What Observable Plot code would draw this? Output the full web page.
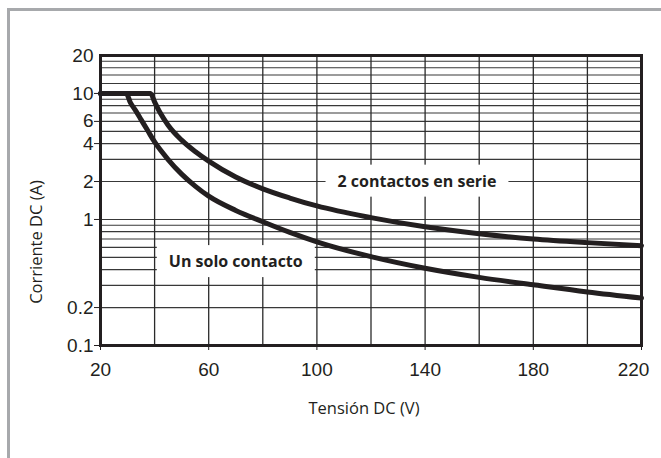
<!DOCTYPE html>
<html><head><meta charset="utf-8">
<script src="https://cdn.jsdelivr.net/npm/d3@7"></script>
<script src="https://cdn.jsdelivr.net/npm/@observablehq/plot@0.6"></script>
<style>
html,body{margin:0;padding:0;background:#fff;width:661px;height:458px;overflow:hidden}
#wrap{position:relative;width:661px;height:458px}
#border{position:absolute;left:7px;top:8px;width:720px;height:520px;border-top:3px solid #a7a9ac;border-left:3px solid #a7a9ac;box-sizing:border-box}
#chart{position:absolute;left:0;top:0}
#ytitle{position:absolute;left:36px;top:242px;transform:translate(-50%,-50%) rotate(-90deg);white-space:nowrap;font-family:'Open Sans',sans-serif;font-size:16.5px;color:#231f20;line-height:1}
</style></head><body>
<div id="wrap"><div id="border"></div><div id="chart"></div><div id="ytitle"></div></div>
<script>
// Single contact curve
const singleVoltage = [20, 29.5, 31, 33, 35, 37.5, 40, 45, 50, 55, 60, 70, 80, 90, 100, 120, 140, 160, 180, 200, 220];
const singleCurrent = [10, 10, 8.5, 7.3, 6.2, 5.05, 4.12, 2.99, 2.29, 1.84, 1.53, 1.18, 0.96, 0.79, 0.665, 0.507, 0.41, 0.347, 0.303, 0.266, 0.238];
// Two contacts in series curve
const seriesVoltage = [20, 38.5, 40, 42, 45, 50, 55, 60, 70, 80, 90, 100, 120, 140, 160, 180, 200, 220];
const seriesCurrent = [10, 10, 8.56, 7.05, 5.6, 4.26, 3.46, 2.9, 2.17, 1.75, 1.48, 1.28, 1.035, 0.875, 0.77, 0.70, 0.655, 0.62];

const xTicks = [20, 60, 100, 140, 180, 220];
const xGrid = [40, 60, 80, 100, 120, 140, 160, 180, 200];
const yLabels = [0.1, 0.2, 1, 2, 4, 6, 10, 20];
const yTickMarks = [0.1, 0.2, 1, 2, 4, 6, 10];
const yGrid = [0.2, 0.3, 0.4, 0.5, 0.6, 0.7, 0.8, 0.9, 1, 2, 3, 4, 5, 6, 7, 8, 9, 10, 12, 14, 16, 18];

const curveLabels = ["2 contactos en serie", "Un solo contacto"];
const labelVoltage = [137, 70];
const labelCurrent = [2, 0.46];

const xTitle = "Tensión DC (V)";
const yTitle = "Corriente DC (A)";

const single = singleVoltage.map((v, i) => ({v, a: singleCurrent[i]}));
const series = seriesVoltage.map((v, i) => ({v, a: seriesCurrent[i]}));
const labels = curveLabels.map((t, i) => ({t, v: labelVoltage[i], a: labelCurrent[i]}));

const ink = "#231f20";
const tickFont = "'Liberation Sans', Arial, sans-serif";
const textFont = "'Open Sans', sans-serif";

const chart = Plot.plot({
  width: 661,
  height: 458,
  marginLeft: 100,
  marginRight: 20,
  marginTop: 55,
  marginBottom: 113,
  style: {background: "transparent", color: ink, fontFamily: tickFont},
  x: {domain: [20, 220]},
  y: {type: "log", domain: [0.1, 20]},
  marks: [
    Plot.ruleY(yGrid, {stroke: "#383838", strokeWidth: 1.15}),
    Plot.ruleX(xGrid, {stroke: "#2a2a2a", strokeWidth: 1.3}),
    Plot.line(series, {x: "v", y: "a", stroke: ink, strokeWidth: 5, curve: "monotone-x"}),
    Plot.line(single, {x: "v", y: "a", stroke: ink, strokeWidth: 5, curve: "monotone-x"}),
    Plot.frame({stroke: ink, strokeWidth: 3}),
    Plot.axisX({ticks: xTicks, tickSize: 5, tickPadding: 12, fontSize: 19, tickFormat: d => String(d), label: null, className: "xaxis"}),
    Plot.axisY({ticks: yTickMarks, tickSize: 6, tickFormat: () => "", label: null}),
    Plot.text(yLabels, {y: d => d, text: d => String(d), frameAnchor: "left", textAnchor: "end", dx: -7, fontSize: 19, fill: ink}),
    Plot.text([xTitle], {frameAnchor: "bottom", dx: -7, dy: 68, fontSize: 16.5, fontFamily: textFont, fill: ink}),
    Plot.text(labels, {x: "v", y: "a", text: "t", fontSize: 16, fontWeight: "bold", fontFamily: textFont, fill: ink, className: "curve-label"})
  ]
});

document.getElementById("chart").appendChild(chart);
document.getElementById("ytitle").textContent = yTitle;

// keep the last x tick label inside the picture, as in the reference
chart.querySelectorAll("text").forEach(t => {
  if (t.textContent === String(xTicks[xTicks.length - 1])) t.setAttribute("dx", "-8");
  if (t.textContent === String(xTicks[0]) && t.closest("g") && t.getAttribute("y") !== null) {}
});

// white boxes behind curve labels
const svgRect = chart.getBoundingClientRect();
const labelGroup = chart.querySelector(".curve-label");
if (labelGroup) {
  const g = labelGroup.tagName.toLowerCase() === "g" ? labelGroup : labelGroup.parentNode;
  const boxes = document.createElementNS("http://www.w3.org/2000/svg", "g");
  g.querySelectorAll("text").forEach(t => {
    const r = t.getBoundingClientRect();
    const rect = document.createElementNS("http://www.w3.org/2000/svg", "rect");
    const padX = 12, padY = 5;
    rect.setAttribute("x", r.left - svgRect.left - padX);
    rect.setAttribute("y", r.top - svgRect.top - padY);
    rect.setAttribute("width", r.width + 2 * padX);
    rect.setAttribute("height", r.height + 2 * padY);
    rect.setAttribute("fill", "#fff");
    boxes.appendChild(rect);
  });
  g.parentNode.insertBefore(boxes, g);
}
</script>
</body></html>
